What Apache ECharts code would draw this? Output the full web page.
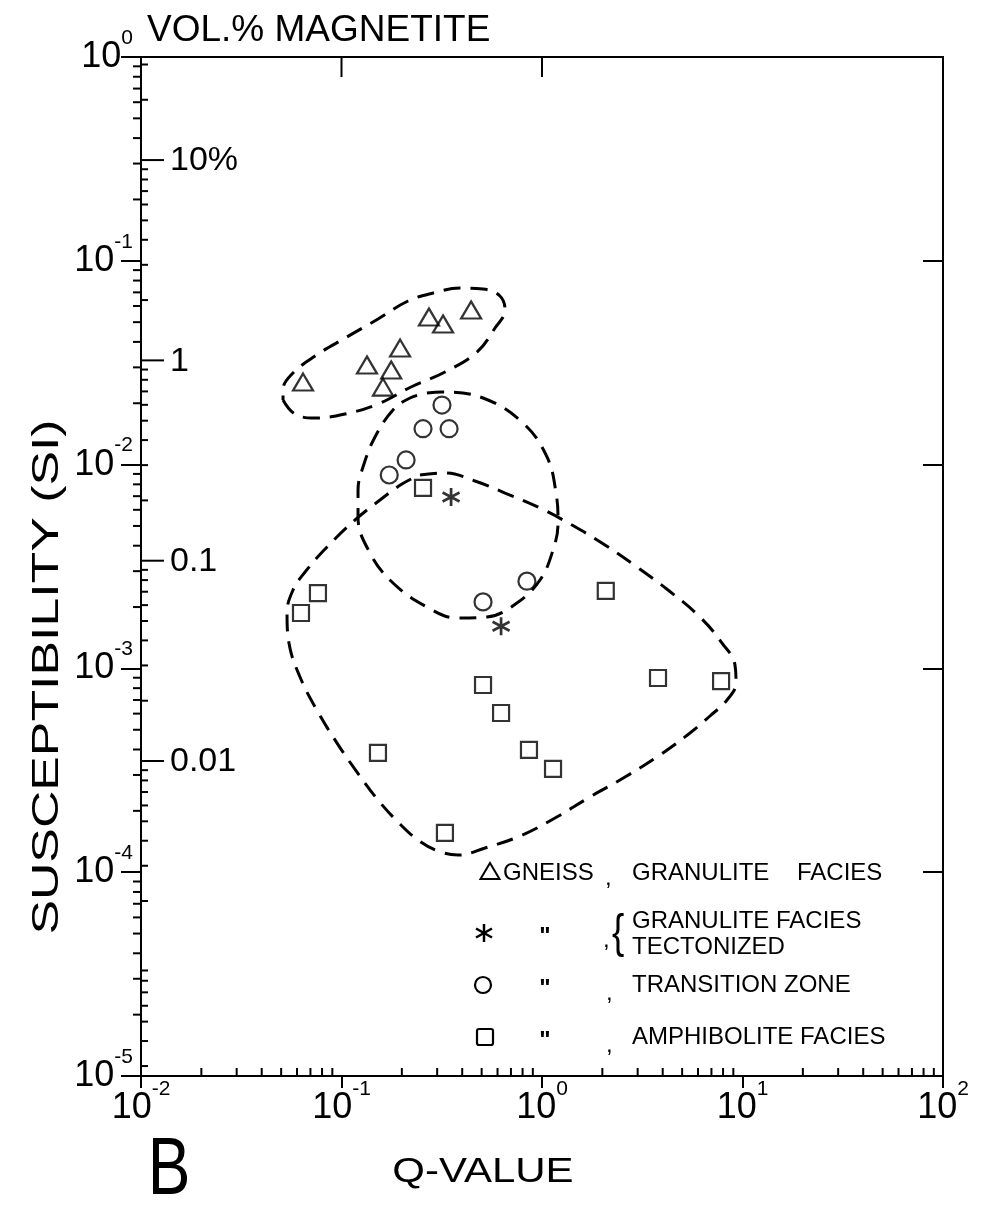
<!DOCTYPE html>
<html><head><meta charset="utf-8">
<script src="https://cdn.jsdelivr.net/npm/echarts@6/dist/echarts.min.js"></script>
<style>html,body{margin:0;padding:0;background:#fff}#c{width:996px;height:1217px}</style>
</head><body><div id="c"></div>
<script>
const FONT = '"Liberation Sans","DejaVu Sans",sans-serif';

// ---------------- data (Q-value, susceptibility SI) ----------------
const gneissGranulite = [[0.0643,0.0254],[0.134,0.0308],[0.196,0.0373],[0.177,0.0291],[0.161,0.0240],[0.273,0.0530],[0.321,0.0490],[0.443,0.0574]];
const granuliteTectonized = [[0.352,0.00693],[0.625,0.00161]];
const transitionZone = [[0.317,0.0196],[0.255,0.0150],[0.344,0.0150],[0.210,0.01054],[0.173,0.00889],[0.508,0.00212],[0.841,0.00268]];
const amphibolite = [[0.255,0.00768],[0.0763,0.00234],[0.0628,0.00187],[2.08,0.00240],[3.79,0.000897],[7.82,0.000867],[0.508,0.000829],[0.625,0.000604],[0.861,0.000398],[1.135,0.000321],[0.152,0.000385],[0.328,0.000156]];

const contourGneiss = [[0.0511,0.02075],[0.0586,0.01771],[0.0738,0.01693],[0.1041,0.01771],[0.1521,0.01983],[0.2222,0.02403],[0.3282,0.02848],[0.474,0.03568],[0.583,0.0468],[0.654,0.05736],[0.617,0.0672],[0.508,0.0727],[0.390,0.0735],[0.286,0.0695],[0.2146,0.0635],[0.1521,0.0518],[0.1065,0.0423],[0.0738,0.0341],[0.0560,0.02752],[0.0511,0.02323],[0.0511,0.02075]];
const contourTransition = [[0.267,0.02245],[0.317,0.02271],[0.508,0.02122],[0.804,0.0160],[1.059,0.0109],[1.175,0.007254],[1.202,0.005168],[1.135,0.00381],[0.977,0.002715],[0.750,0.002094],[0.532,0.001787],[0.377,0.001767],[0.267,0.0020],[0.1807,0.002624],[0.1387,0.003683],[0.1209,0.005533],[0.1209,0.007506],[0.1280,0.009732],[0.1469,0.01366],[0.1807,0.01853],[0.2196,0.02122],[0.267,0.02245]];
const contourAmphibolite = [[0.2463,0.008892],[0.3282,0.009095],[0.463,0.008309],[0.654,0.007254],[0.977,0.006124],[1.411,0.005052],[2.062,0.004031],[2.977,0.003145],[4.250,0.002425],[6.138,0.001787],[7.903,0.001332],[9.175,0.001039],[9.281,0.000848],[8.370,0.0007],[6.884,0.000584],[5.471,0.000482],[3.877,0.000376],[2.594,0.000293],[1.735,0.000234],[1.161,0.0001845],[0.777,0.0001505],[0.520,0.0001314],[0.381,0.0001214],[0.303,0.0001271],[0.2407,0.0001439],[0.1913,0.0001763],[0.1521,0.000226],[0.1195,0.00031],[0.0950,0.00043],[0.0763,0.000611],[0.0621,0.000907],[0.0547,0.001332],[0.0535,0.00187],[0.0573,0.002425],[0.0658,0.002972],[0.0847,0.003941],[0.1168,0.005348],[0.1556,0.006704],[0.2003,0.008033],[0.2463,0.008892]];

// ---------------- tick labels ----------------
const xTickExponents = [-2,-1,0,1,2];
const yTickExponents = [0,-1,-2,-3,-4,-5];
const magnetiteTickValues = [10,1,0.1,0.01];
const magnetiteTickLabels = ['10%','1','0.1','0.01'];
const topTickValues = [0.1,1];
const minorMantissas = [2,3,4,5,6,7,8,9];

// ---------------- derived tick lists ----------------
const X_MIN = 0.01, X_MAX = 100, Y_MIN = 1e-5, Y_MAX = 1;
const MAG_MIN = 2.676e-4, MAG_MAX = 32.7;
function minorList(e0, e1, lo, hi) {
  const out = [];
  for (let e = e0; e <= e1; e++) minorMantissas.forEach(m => { const v = m * Math.pow(10, e); if (v > lo && v < hi) out.push(v); });
  return out;
}
const suscMinor = minorList(-5, -1, Y_MIN, Y_MAX);
const qMinor = minorList(-2, 1, X_MIN, X_MAX);
const magMinor = minorList(-4, 1, MAG_MIN, MAG_MAX);

const magData = magnetiteTickValues.map((v, i) => [X_MIN, v, i]).concat(magMinor.map(v => [X_MIN, v, -1]));

function expLabel(list) {
  return function (value) {
    const e = Math.round(Math.log10(value));
    if (Math.abs(Math.log10(value) - e) > 1e-6 || list.indexOf(e) < 0) return '';
    return '{b|10}{s|' + e + '}';
  };
}
const richLab = {
  b: { fontSize: 36, fontFamily: FONT, color: '#000' },
  s: { fontSize: 21, fontFamily: FONT, color: '#000', padding: [0, 0, 38, 0] }
};

const lineBlack = { color: '#000', width: 2 };

function tickRenderer(dx, dy, len) {
  return function (params, api) {
    const p = api.coord([api.value(0), api.value(1)]);
    return { type: 'line', shape: { x1: p[0], y1: p[1], x2: p[0] + dx * len, y2: p[1] + dy * len }, style: { stroke: '#000', lineWidth: 2 } };
  };
}

const hollow = { color: 'rgba(0,0,0,0)', borderColor: '#000', borderWidth: 2.2 };
const starPath = 'path://M5,0L5,10M0.67,2.5L9.33,7.5M0.67,7.5L9.33,2.5';

const contourStyle = { color: '#000', width: 3, type: [17, 10] };
const txt = (text, x, y, size, extra) => Object.assign({ type: 'text', x: x, y: y, style: { text: text, fontSize: size, fontFamily: FONT, fill: '#000', verticalAlign: 'middle' } }, extra || {});
const seg = (x1, y1, x2, y2, w) => ({ type: 'line', shape: { x1, y1, x2, y2 }, style: { stroke: '#000', lineWidth: w || 2.5 } });
const ditto = (x, y) => ({ type: 'text', x: x, y: y, style: { text: '"', fontSize: 24, fontWeight: 'bold', fontFamily: FONT, fill: '#000', align: 'center', verticalAlign: 'middle' } });

const option = {
  animation: false,
  backgroundColor: '#fff',
  grid: { left: 141, top: 57, width: 802, height: 1019, containLabel: false, outerBoundsMode: 'none' },
  xAxis: [
    { type: 'log', logBase: 10, min: X_MIN, max: X_MAX, position: 'bottom',
      axisLine: { show: true, lineStyle: lineBlack },
      axisTick: { show: true, inside: false, length: 12, lineStyle: lineBlack },
      axisLabel: { formatter: expLabel(xTickExponents), rich: richLab, margin: 3 },
      splitLine: { show: false }, minorTick: { show: false } },
    { type: 'log', logBase: 10, min: X_MIN, max: X_MAX, position: 'top',
      axisLine: { show: true, lineStyle: lineBlack },
      axisTick: { show: false }, axisLabel: { show: false }, splitLine: { show: false } }
  ],
  yAxis: [
    { type: 'log', logBase: 10, min: Y_MIN, max: Y_MAX, position: 'left',
      axisLine: { show: true, lineStyle: lineBlack },
      axisTick: { show: true, inside: false, length: 20, lineStyle: lineBlack },
      axisLabel: { formatter: expLabel(yTickExponents), rich: richLab, margin: 8 },
      splitLine: { show: false } },
    { type: 'log', logBase: 10, min: Y_MIN, max: Y_MAX, position: 'right',
      axisLine: { show: true, lineStyle: lineBlack },
      axisTick: { show: true, inside: true, length: 20, lineStyle: lineBlack },
      axisLabel: { show: false }, splitLine: { show: false } },
    { type: 'log', logBase: 10, min: MAG_MIN, max: MAG_MAX, show: false, position: 'left', splitLine: { show: false } }
  ],
  graphic: [
    txt('VOL.% MAGNETITE', 147, 31, 37),
    txt('SUSCEPTIBILITY (SI)', 48, 677, 37, { rotation: Math.PI / 2, scaleX: 1.4, style: { text: 'SUSCEPTIBILITY (SI)', fontSize: 37, fontFamily: FONT, fill: '#000', align: 'center', verticalAlign: 'middle' } }),
    txt('Q-VALUE', 483, 1172, 35, { scaleX: 1.2, style: { text: 'Q-VALUE', fontSize: 35, fontFamily: FONT, fill: '#000', align: 'center', verticalAlign: 'middle' } }),
    txt('B', 169, 1171, 82, { scaleX: 0.78, style: { text: 'B', fontSize: 82, fontFamily: FONT, fill: '#000', align: 'center', verticalAlign: 'middle' } }),
    // legend
    { type: 'polygon', shape: { points: [[490, 863], [499.5, 879], [480.5, 879]] }, style: { fill: 'none', stroke: '#000', lineWidth: 2 } },
    txt('GNEISS', 503, 873, 24),
    txt(',', 605, 878, 24),
    txt('GRANULITE', 632, 873, 24),
    txt('FACIES', 797, 873, 24),

    seg(484, 924, 484, 942), seg(476, 928.5, 492, 937.5), seg(476, 937.5, 492, 928.5),
    ditto(545, 937),
    txt(',', 603, 940, 24),
    txt('{', 612, 934, 46, { scaleX: 0.8, style: { text: '{', fontSize: 46, fontFamily: FONT, fill: '#000', verticalAlign: 'middle' } }),
    txt('GRANULITE FACIES', 632, 921, 24),
    txt('TECTONIZED', 632, 947, 24),

    { type: 'circle', shape: { cx: 483, cy: 985, r: 8 }, style: { fill: 'none', stroke: '#000', lineWidth: 2.2 } },
    ditto(545, 989),
    txt(',', 606, 993, 24),
    txt('TRANSITION ZONE', 632, 985, 24),

    { type: 'rect', shape: { x: 477, y: 1029, width: 16, height: 16, r: 2 }, style: { fill: 'none', stroke: '#000', lineWidth: 2.2 } },
    ditto(545, 1041),
    txt(',', 606, 1045, 24),
    txt('AMPHIBOLITE FACIES', 632, 1037, 24)
  ],
  series: [
    { name: 'contour gneiss', type: 'line', data: contourGneiss, smooth: 0.4, symbol: 'none', silent: true, lineStyle: contourStyle, z: 2 },
    { name: 'contour transition', type: 'line', data: contourTransition, smooth: 0.4, symbol: 'none', silent: true, lineStyle: contourStyle, z: 2 },
    { name: 'contour amphibolite', type: 'line', data: contourAmphibolite, smooth: 0.4, symbol: 'none', silent: true, lineStyle: contourStyle, z: 2 },

    { name: 'Gneiss, granulite facies', type: 'scatter', data: gneissGranulite, symbol: 'triangle', symbolSize: [20, 17], itemStyle: hollow, z: 3 },
    { name: 'Granulite facies tectonized', type: 'scatter', data: granuliteTectonized, symbol: starPath, symbolSize: [17, 18], itemStyle: { color: 'rgba(0,0,0,0)', borderColor: '#000', borderWidth: 2.8 }, z: 3 },
    { name: 'Transition zone', type: 'scatter', data: transitionZone, symbol: 'circle', symbolSize: 17, itemStyle: hollow, z: 3 },
    { name: 'Amphibolite facies', type: 'scatter', data: amphibolite, symbol: 'rect', symbolSize: 16, itemStyle: hollow, z: 3 },

    { name: 'susc minor ticks', type: 'custom', xAxisIndex: 0, yAxisIndex: 0, data: suscMinor.map(v => [X_MIN, v]), renderItem: tickRenderer(-1, 0, 8), silent: true, z: 5 },
    { name: 'q minor ticks', type: 'custom', xAxisIndex: 0, yAxisIndex: 0, data: qMinor.map(v => [v, Y_MIN]), renderItem: tickRenderer(0, -1, 8), silent: true, z: 5 },
    { name: 'top ticks', type: 'custom', xAxisIndex: 0, yAxisIndex: 0, data: topTickValues.map(v => [v, Y_MAX]), renderItem: tickRenderer(0, 1, 20), silent: true, z: 5 },
    { name: 'magnetite ticks', type: 'custom', xAxisIndex: 0, yAxisIndex: 2, data: magData, silent: true, z: 5,
      renderItem: function (params, api) {
        const p = api.coord([api.value(0), api.value(1)]);
        const idx = api.value(2);
        if (idx < 0) {
          return { type: 'line', shape: { x1: p[0], y1: p[1], x2: p[0] + 7, y2: p[1] }, style: { stroke: '#000', lineWidth: 2 } };
        }
        return { type: 'group', children: [
          { type: 'line', shape: { x1: p[0], y1: p[1], x2: p[0] + 23, y2: p[1] }, style: { stroke: '#000', lineWidth: 2 } },
          { type: 'text', x: p[0] + 29, y: p[1] + 1, style: { text: magnetiteTickLabels[idx], fontSize: 34, fontFamily: FONT, fill: '#000', align: 'left', verticalAlign: 'middle' } }
        ] };
      } }
  ]
};

const chart = echarts.init(document.getElementById('c'), null, { renderer: 'canvas', width: 996, height: 1217 });
chart.setOption(option);
</script>
</body></html>
